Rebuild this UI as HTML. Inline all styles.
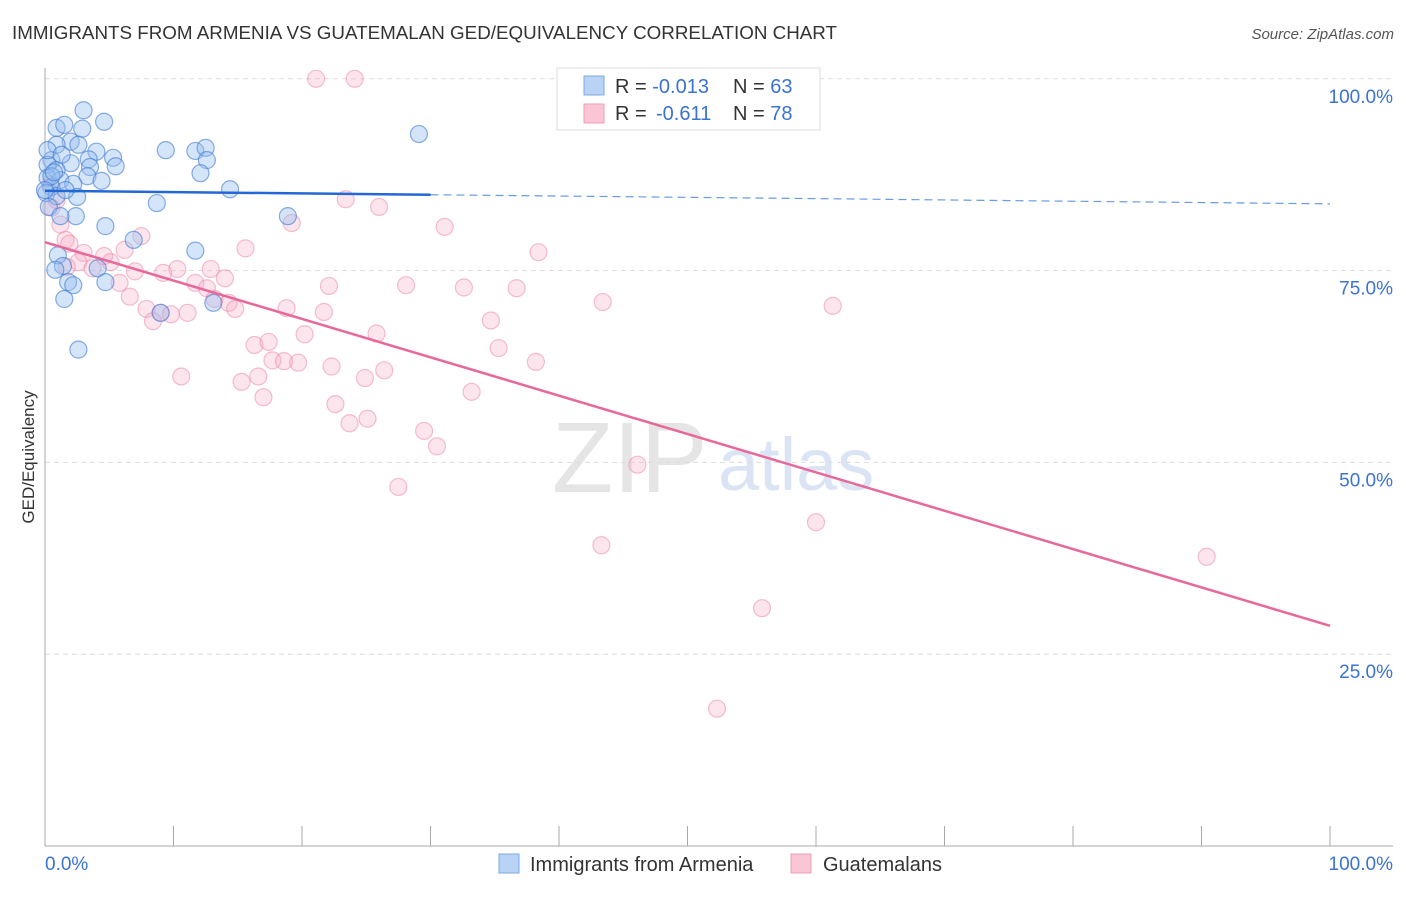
<!DOCTYPE html>
<html><head><meta charset="utf-8"><style>
body{margin:0;background:#fff;font-family:"Liberation Sans",sans-serif;}
svg text{font-family:"Liberation Sans",sans-serif;}
</style></head><body>
<svg id="chart" width="1406" height="892" viewBox="0 0 1406 892" xmlns="http://www.w3.org/2000/svg">
<text x="12" y="39" font-size="18.5" fill="#333" textLength="825" lengthAdjust="spacingAndGlyphs">IMMIGRANTS FROM ARMENIA VS GUATEMALAN GED/EQUIVALENCY CORRELATION CHART</text>
<text x="1394" y="39" font-size="15" fill="#555" text-anchor="end" font-style="italic">Source: ZipAtlas.com</text>
<g opacity="0.9">
<text x="552" y="492" font-size="100" fill="#e3e3e3" font-family="Liberation Serif,serif">ZIP</text>
<text x="718" y="490" font-size="74" fill="#d6e2f3">atlas</text>
</g>
<g id="grid"></g>
<g id="axes"></g>
<g id="marks"></g>
<text transform="translate(34,457) rotate(-90)" font-size="17" fill="#333" text-anchor="middle">GED/Equivalency</text>
<g>
<rect x="557" y="68" width="263" height="62" fill="#fff" stroke="#ddd"/>
<rect x="584" y="76" width="20" height="19" fill="#b9d3f5" stroke="#7fa8e0"/>
<rect x="584" y="104" width="20" height="19" fill="#fac6d6" stroke="#ef9fb8"/>
<text x="615" y="93" font-size="20" fill="#333">R = <tspan fill="#3b73d1">-0.013</tspan><tspan x="733">N = </tspan><tspan fill="#3b73d1">63</tspan></text>
<text x="615" y="120" font-size="20" fill="#333">R = <tspan fill="#3b73d1" x="656">-0.611</tspan><tspan x="733">N = </tspan><tspan fill="#3b73d1">78</tspan></text>
</g>
<g>
<rect x="499" y="854" width="20" height="19" fill="#b9d3f5" stroke="#7fa8e0"/>
<text x="530" y="871" font-size="20" fill="#333">Immigrants from Armenia</text>
<rect x="791" y="854" width="20" height="19" fill="#fac6d6" stroke="#ef9fb8"/>
<text x="823" y="871" font-size="20" fill="#333">Guatemalans</text>
</g>
</svg>
<script>
const yTicks=[100,75,50,25];
const yTickLabels=["100.0%","75.0%","50.0%","25.0%"];
const xTickLabels=["0.0%","100.0%"];
const blueX=[3.0,4.6,0.9,1.5,2.9,2.0,0.9,9.4,11.7,12.5,12.6,4.0,5.3,3.4,2.0,0.5,0.2,5.5,3.5,12.1,0.9,3.3,0.2,1.2,4.4,2.2,0.5,14.4,0.1,0.9,2.5,8.7,0.3,18.9,2.4,1.2,4.7,6.9,11.7,1.0,1.4,0.8,4.1,1.8,2.2,4.7,1.5,13.1,9.0,2.6,29.1,0.2,0.5,0,2.6,1.3,1.6,0.7];
const blueY=[95.9,94.4,93.6,94.0,93.5,91.8,91.4,90.7,90.6,91.0,89.4,90.5,89.7,89.5,89.0,89.4,88.8,88.6,88.5,87.7,88.1,87.3,87.1,86.8,86.7,86.3,85.9,85.6,85.1,84.7,84.6,83.8,83.3,82.1,82.1,82.1,80.8,79.0,77.6,77.0,75.6,75.1,75.3,73.5,73.1,73.5,71.3,70.8,69.5,64.7,92.8,90.7,87.3,85.5,91.4,90.1,85.5,87.8];
const pinkX=[21.1,24.1,23.4,26.0,19.2,31.1,1.2,1.6,1.9,7.5,15.6,6.2,3.0,4.6,38.4,2.6,3.7,5.1,7.0,10.3,12.9,9.2,14.0,5.8,11.7,12.6,22.1,28.1,32.6,36.7,6.6,13.2,14.3,14.8,18.8,21.7,7.9,9.0,9.8,11.1,8.4,43.4,61.3,34.7,25.8,20.2,16.3,17.4,35.3,38.2,17.7,18.6,19.7,22.3,26.4,10.6,16.6,24.9,15.3,33.2,17.0,22.6,23.7,25.1,29.5,30.5,46.1,27.5,60.0,43.3,90.4,55.8,52.3,1.7,0.5,0.9,0.4];
const pinkY=[100,100,84.3,83.3,81.2,80.7,81.0,79.0,78.5,79.5,77.9,77.7,77.3,76.9,77.4,76.1,75.3,76.1,74.9,75.2,75.2,74.7,74.0,73.4,73.4,72.7,73.0,73.1,72.8,72.7,71.6,71.3,70.8,70.0,70.1,69.6,70.0,69.5,69.3,69.5,68.4,70.9,70.4,68.5,66.8,66.7,65.3,65.7,64.9,63.1,63.3,63.2,63.0,62.5,62.0,61.2,61.2,61.0,60.5,59.2,58.5,57.6,55.1,55.7,54.1,52.1,49.7,46.8,42.2,39.2,37.7,31.0,17.9,75.5,83.2,84.2,86.2];
const blueTrend=[85.4,83.7];
const pinkTrend=[78.7,28.7];
const X0=45,X1=1330,Y0=846,YPER=7.672;
const sx=v=>X0+(X1-X0)*v/100;
const sy=v=>Y0-v*YPER;
const NS="http://www.w3.org/2000/svg";
function mk(t,a,p){const e=document.createElementNS(NS,t);for(const k in a)e.setAttribute(k,a[k]);p.appendChild(e);return e;}
const grid=document.getElementById('grid'),axes=document.getElementById('axes'),marks=document.getElementById('marks');
yTicks.forEach((v,i)=>{
 const l=mk('line',{x1:X0,x2:1393,y1:sy(v),y2:sy(v),stroke:'#ddd','stroke-dasharray':'5,4'},grid);
 
 
 const t=mk('text',{x:1393,y:sy(v)+24,'font-size':19,fill:'#3b73d1','text-anchor':'end'},axes);
 t.textContent=yTickLabels[i];
 
 
});
const ax=mk('line',{x1:X0,x2:X0,y1:68,y2:Y0,stroke:'#aaa'},axes);


const bx=mk('line',{x1:X0,x2:1393,y1:Y0,y2:Y0,stroke:'#aaa'},axes);


for(let i=0;i<=10;i++){
 const tk=mk('line',{x1:sx(i*10),x2:sx(i*10),y1:826,y2:Y0,stroke:'#aaa'},axes);
 
 
}
[[0,'start',45],[1,'end',1393]].forEach(([i,a,x])=>{
 const t=mk('text',{x:x,y:870,'font-size':19,fill:'#3b73d1','text-anchor':a},axes);
 t.textContent=xTickLabels[i];
 
 
});
pinkX.forEach((x,i)=>{
 const c=mk('circle',{cx:sx(x),cy:sy(pinkY[i]),r:8.5,fill:'rgba(246,170,195,0.3)',stroke:'rgba(236,130,165,0.5)','stroke-width':1.2},marks);
 
 
});
blueX.forEach((x,i)=>{
 const c=mk('circle',{cx:sx(x),cy:sy(blueY[i]),r:8.5,fill:'rgba(150,190,240,0.4)',stroke:'rgba(60,120,210,0.6)','stroke-width':1.2},marks);
 
 
});
const bs=(blueTrend[1]-blueTrend[0])/100;
const b1=mk('line',{x1:sx(0),y1:sy(blueTrend[0]),x2:sx(30),y2:sy(blueTrend[0]+bs*30),stroke:'#2468d6','stroke-width':2.5},marks);


const b2=mk('line',{x1:sx(30),y1:sy(blueTrend[0]+bs*30),x2:sx(100),y2:sy(blueTrend[1]),stroke:'#6a9be0','stroke-width':1.2,'stroke-dasharray':'8,5'},marks);


const p1=mk('line',{x1:sx(0),y1:sy(pinkTrend[0]),x2:sx(100),y2:sy(pinkTrend[1]),stroke:'#e8689a','stroke-width':2.5},marks);


</script>
</body></html>
